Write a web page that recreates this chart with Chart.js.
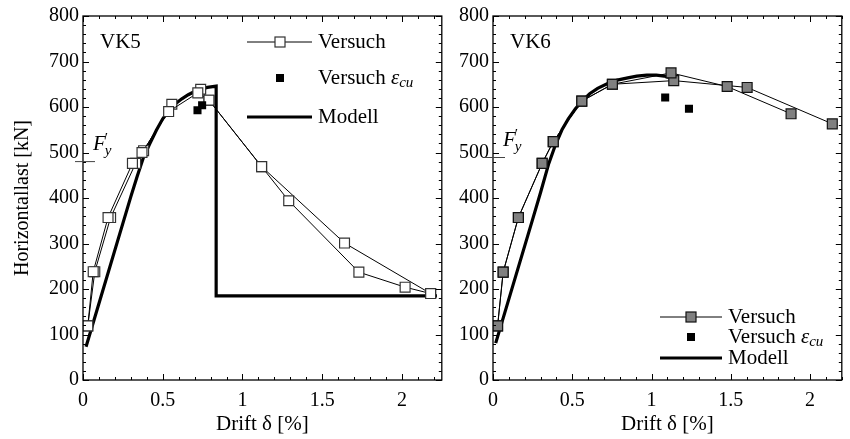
<!DOCTYPE html>
<html><head><meta charset="utf-8">
<script src="https://cdn.jsdelivr.net/npm/chart.js@4.4.1/dist/chart.umd.min.js"></script>
<style>
html,body{margin:0;padding:0;background:#fff;}
#wrap{position:relative;width:850px;height:439px;overflow:hidden;background:#fff;}
#c1{position:absolute;left:0;top:0;}
#c2{position:absolute;left:450px;top:0;}
</style></head><body>
<div id="wrap">
<canvas id="c1" width="450" height="439" style="width:450px;height:439px"></canvas>
<canvas id="c2" width="400" height="439" style="width:400px;height:439px"></canvas>
</div>
<script>
// ---- tick labels ----
const xTickValues = [0, 0.5, 1, 1.5, 2];
const xTickLabels = ["0", "0.5", "1", "1.5", "2"];
const yTickValues = [0, 100, 200, 300, 400, 500, 600, 700, 800];
const yTickLabels = ["0", "100", "200", "300", "400", "500", "600", "700", "800"];

// ---- VK5 ----
const vk5VersuchA_x = [0.03, 0.064, 0.157, 0.31, 0.37, 0.537, 0.72, 0.79, 1.12, 1.29, 1.73, 2.02, 2.18];
const vk5VersuchA_y = [119, 238, 357, 476, 500, 590, 631, 615, 469, 394, 237, 204, 190];
const vk5VersuchB_x = [0.03, 0.074, 0.173, 0.33, 0.38, 0.557, 0.738, 0.79, 1.12, 1.64, 2.18];
const vk5VersuchB_y = [119, 238, 357, 476, 504, 606, 639, 615, 469, 301, 190];
const vk5Ecu_x = [0.718, 0.747];
const vk5Ecu_y = [593, 604];
const vk5Modell_x = [0.019, 0.30, 0.34, 0.38, 0.42, 0.46, 0.50, 0.54, 0.58, 0.62, 0.66, 0.70, 0.74, 0.78, 0.835, 0.835, 2.22];
const vk5Modell_y = [73, 403, 448, 490, 520, 549, 574, 593, 607, 618, 627, 634, 639, 643, 646, 185, 185];
const vk5Fy = 480;

// ---- VK6 ----
const vk6VersuchA_x = [0.029, 0.064, 0.16, 0.31, 0.38, 0.56, 0.753, 1.123, 1.477, 1.88];
const vk6VersuchA_y = [119, 237, 357, 476, 524, 613, 650, 675, 645, 585];
const vk6VersuchB_x = [0.029, 0.064, 0.16, 0.31, 0.38, 0.56, 0.753, 1.14, 1.603, 2.14];
const vk6VersuchB_y = [119, 237, 357, 476, 524, 613, 650, 658, 643, 563];
const vk6Ecu_x = [1.086, 1.236];
const vk6Ecu_y = [621, 596];
const vk6Modell_x = [0.017, 0.249, 0.30, 0.352, 0.393, 0.435, 0.475, 0.52, 0.562, 0.61, 0.66, 0.72, 0.784, 0.85, 0.907, 0.97, 1.03, 1.08, 1.11];
const vk6Modell_y = [81, 352, 412, 476, 516, 550, 574, 596, 613, 629, 641, 651, 659, 664, 668, 670, 670, 668, 665];
const vk6Fy = 489;

const FONT = "'Liberation Serif', 'DejaVu Serif', serif";
const pts = (xs, ys) => xs.map((x, i) => ({x: x, y: ys[i]}));

function frameTicksPlugin(cfg) {
  return {
    id: 'frameTicks_' + cfg.name,
    afterDraw(chart) {
      const ctx = chart.ctx;
      const a = chart.chartArea;
      const xs = chart.scales.x, ys = chart.scales.y;
      ctx.save();
      ctx.strokeStyle = '#000';
      ctx.lineWidth = 1;
      const step = (lo, hi, st) => { const r = []; for (let v = lo; v <= hi + 1e-9; v += st) r.push(+v.toFixed(4)); return r; };
      const xMinor = step(0, xs.max, 0.1);
      const yMinor = step(0, ys.max, 20);
      ctx.beginPath();
      xMinor.forEach(v => {
        const major = Math.abs(v * 2 - Math.round(v * 2)) < 1e-6;
        const L = major ? 6 : 3;
        const px = Math.round(xs.getPixelForValue(v)) + 0.5;
        ctx.moveTo(px, a.bottom); ctx.lineTo(px, a.bottom - L);
        ctx.moveTo(px, a.top); ctx.lineTo(px, a.top + L);
      });
      yMinor.forEach(v => {
        const major = Math.abs(v % 100) < 1e-6;
        const L = major ? 6 : 3;
        const py = Math.round(ys.getPixelForValue(v)) + 0.5;
        ctx.moveTo(a.left, py); ctx.lineTo(a.left + L, py);
        ctx.moveTo(a.right, py); ctx.lineTo(a.right - L, py);
      });
      ctx.stroke();
      ctx.lineWidth = 1.3;
      ctx.strokeRect(a.left, a.top, a.right - a.left, a.bottom - a.top);

      // F'y marker
      const fy = ys.getPixelForValue(cfg.fy);
      ctx.strokeStyle = '#444';
      ctx.lineWidth = 1;
      ctx.beginPath();
      ctx.moveTo(a.left - 8, fy); ctx.lineTo(a.left + 12, fy);
      ctx.stroke();
      ctx.fillStyle = '#000';
      ctx.textBaseline = 'alphabetic';
      ctx.textAlign = 'left';
      ctx.font = 'italic 21px ' + FONT;
      const fx = a.left + 10, fb = fy - 12;
      ctx.fillText('F', fx, fb);
      const fw = ctx.measureText('F').width;
      ctx.font = '15px ' + FONT;
      ctx.fillText('\u2032', fx + fw - 1, fb - 7);
      ctx.font = 'italic 15px ' + FONT;
      ctx.fillText('y', fx + fw - 1, fb + 5);

      // panel label
      ctx.font = '21px ' + FONT;
      ctx.textBaseline = 'middle';
      ctx.fillText(cfg.name, a.left + 17, 42);

      // legend
      const L = cfg.legend;
      ctx.font = '21px ' + FONT;
      ctx.strokeStyle = '#000'; ctx.lineWidth = 1;
      ctx.beginPath(); ctx.moveTo(L.x0, L.rows[0]); ctx.lineTo(L.x1, L.rows[0]); ctx.stroke();
      ctx.fillStyle = cfg.fill; ctx.strokeStyle = cfg.edge; ctx.lineWidth = 1.2;
      ctx.fillRect(L.xm - 5, L.rows[0] - 5, 10, 10);
      ctx.strokeRect(L.xm - 5, L.rows[0] - 5, 10, 10);
      ctx.fillStyle = '#000';
      ctx.fillText('Versuch', L.xt, L.rows[0]);
      ctx.fillRect(L.xm - 4, L.rows[1] - 4, 8, 8);
      ctx.fillText('Versuch ', L.xt, L.rows[1]);
      let w = ctx.measureText('Versuch ').width;
      ctx.font = 'italic 21px ' + FONT;
      ctx.fillText('\u03B5', L.xt + w, L.rows[1]);
      w += ctx.measureText('\u03B5').width;
      ctx.font = 'italic 15px ' + FONT;
      ctx.fillText('cu', L.xt + w, L.rows[1] + 5);
      ctx.font = '21px ' + FONT;
      ctx.strokeStyle = '#000'; ctx.lineWidth = 3.2;
      ctx.beginPath(); ctx.moveTo(L.x0, L.rows[2]); ctx.lineTo(L.x1, L.rows[2]); ctx.stroke();
      ctx.fillText('Modell', L.xt, L.rows[2]);
      ctx.restore();
    }
  };
}

function makeChart(id, cfg) {
  const versuchStyle = {
    showLine: true, borderColor: '#000', borderWidth: 1, tension: 0,
    pointStyle: 'rect', pointRadius: 7, pointHoverRadius: 7,
    pointBackgroundColor: cfg.fill, pointBorderColor: cfg.edge, pointBorderWidth: 1.2
  };
  return new Chart(document.getElementById(id), {
    type: 'scatter',
    data: {
      datasets: [
        {label: 'Versuch ecu', data: pts(cfg.ecu[0], cfg.ecu[1]), showLine: false,
          pointStyle: 'rect', pointRadius: 5.7, pointBackgroundColor: '#000', pointBorderColor: '#000', pointBorderWidth: 0, order: 0},
        Object.assign({label: 'Versuch A', data: pts(cfg.a[0], cfg.a[1]), order: 1}, versuchStyle),
        Object.assign({label: 'Versuch B', data: pts(cfg.b[0], cfg.b[1]), order: 2}, versuchStyle),
        {label: 'Modell', data: pts(cfg.m[0], cfg.m[1]), showLine: true, borderColor: '#000', borderWidth: 3.2,
          pointRadius: 0, tension: 0, order: 3, borderJoinStyle: 'miter'}
      ]
    },
    options: {
      responsive: false, animation: false, devicePixelRatio: 1,
      layout: {padding: {left: 0, right: cfg.padRight, top: 16, bottom: 0}},
      plugins: {legend: {display: false}, tooltip: {enabled: false}},
      scales: {
        x: {
          type: 'linear', min: 0, max: cfg.xmax,
          afterBuildTicks: s => { s.ticks = xTickValues.map(v => ({value: v})); },
          afterFit: s => { s.height = 59; },
          grid: {display: false, drawTicks: false},
          border: {display: false},
          ticks: {padding: 9, color: '#000', font: {family: FONT, size: 20},
            callback: (v) => { const i = xTickValues.indexOf(v); return i >= 0 ? xTickLabels[i] : ''; }},
          title: {display: true, text: 'Drift \u03B4 [%]', color: '#000', font: {family: FONT, size: 21}, padding: {top: 0, bottom: 2}}
        },
        y: {
          type: 'linear', min: 0, max: 800,
          afterBuildTicks: s => { s.ticks = yTickValues.map(v => ({value: v})); },
          afterFit: s => { s.width = cfg.yWidth; },
          grid: {display: false, drawTicks: false},
          border: {display: false},
          ticks: {padding: 4, color: '#000', font: {family: FONT, size: 20},
            callback: (v) => { const i = yTickValues.indexOf(v); return i >= 0 ? yTickLabels[i] : ''; }},
          title: {display: cfg.yTitle, text: 'Horizontallast [kN]', color: '#000', font: {family: FONT, size: 20}, padding: {top: 11, bottom: 0}}
        }
      }
    },
    plugins: [frameTicksPlugin(cfg)]
  });
}

makeChart('c1', {
  name: 'VK5', fy: vk5Fy, fill: '#fff', edge: '#333',
  a: [vk5VersuchA_x, vk5VersuchA_y], b: [vk5VersuchB_x, vk5VersuchB_y],
  ecu: [vk5Ecu_x, vk5Ecu_y], m: [vk5Modell_x, vk5Modell_y],
  xmax: 2.25, yWidth: 83, padRight: 2, yTitle: true,
  legend: {x0: 247, x1: 312, xm: 280, xt: 318, rows: [42, 78, 117]}
});
makeChart('c2', {
  name: 'VK6', fy: vk6Fy, fill: '#808080', edge: '#111',
  a: [vk6VersuchA_x, vk6VersuchA_y], b: [vk6VersuchB_x, vk6VersuchB_y],
  ecu: [vk6Ecu_x, vk6Ecu_y], m: [vk6Modell_x, vk6Modell_y],
  xmax: 2.2, yWidth: 43, padRight: 1, yTitle: false,
  legend: {x0: 210, x1: 272, xm: 241, xt: 278, rows: [317, 337, 358]}
});
</script>
</body></html>
